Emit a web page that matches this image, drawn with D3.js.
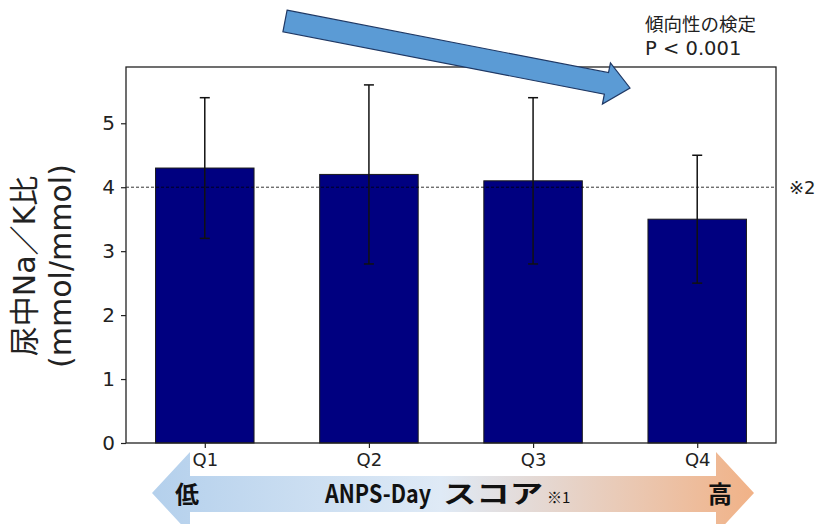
<!DOCTYPE html>
<html>
<head>
<meta charset="utf-8">
<script src="https://cdn.jsdelivr.net/npm/d3@7"></script>
<style>
  body { margin: 0; background: #fff; }
  svg text { font-family: "DejaVu Sans", "Noto Sans CJK JP", sans-serif; }
</style>
</head>
<body>
<div id="chart"></div>
<script>
// data
const quartiles = ["Q1", "Q2", "Q3", "Q4"];
const means = [4.3, 4.2, 4.1, 3.5];
const errLow = [3.2, 2.8, 2.8, 2.5];
const errHigh = [5.4, 5.6, 5.4, 4.5];
const yTicks = [0, 1, 2, 3, 4, 5];
const refLine = 4;

const W = 819, H = 524;
const plot = { left: 126, right: 776, top: 67, bottom: 443 };

const svg = d3.select("#chart").append("svg")
  .attr("width", W)
  .attr("height", H);

// bottom double-headed gradient arrow (drawn first, labels go over it)
const defs = svg.append("defs");
const grad = defs.append("linearGradient").attr("id", "scoreGrad")
  .attr("x1", "0%").attr("x2", "100%");
grad.append("stop").attr("offset", "0%").attr("stop-color", "#b4d0ec");
grad.append("stop").attr("offset", "48%").attr("stop-color", "#dfeaf6");
grad.append("stop").attr("offset", "100%").attr("stop-color", "#f1b287");

const ay = 493;
svg.append("path")
  .attr("d", `M152,${ay} L190,452 L190,476 L716,476 L716,452 L754,${ay}
              L716,534 L716,512 L190,512 L190,534 Z`)
  .attr("fill", "url(#scoreGrad)");

const cjkBold = sel => sel
  .style("font-family", "'Noto Sans CJK JP'")
  .style("font-weight", "bold")
  .attr("fill", "#111");

svg.append("text").attr("x", 187).attr("y", 503)
  .attr("text-anchor", "middle").style("font-size", "24px")
  .call(cjkBold).text("低");
svg.append("text").attr("x", 720).attr("y", 503)
  .attr("text-anchor", "middle").style("font-size", "24px")
  .call(cjkBold).text("高");
svg.append("text").attr("x", 325).attr("y", 503)
  .style("font-size", "25px")
  .attr("textLength", 106).attr("lengthAdjust", "spacingAndGlyphs")
  .call(cjkBold).text("ANPS-Day");
svg.append("text").attr("x", 443).attr("y", 503)
  .style("font-size", "25px")
  .attr("textLength", 100).attr("lengthAdjust", "spacingAndGlyphs")
  .call(cjkBold).text("スコア");
svg.append("text").attr("x", 547).attr("y", 503)
  .style("font-size", "15px")
  .call(cjkBold).style("font-weight", "normal").text("※1");

// scales
const xc = d3.scaleLinear().domain([-0.48, 3.48]).range([plot.left, plot.right]);
const barW = xc(0.3) - xc(-0.3);

const y = d3.scaleLinear().domain([0, 5.88]).range([plot.bottom, plot.top]);

// bars
svg.selectAll(".bar")
  .data(means)
  .enter().append("rect")
  .attr("class", "bar")
  .attr("x", (d, i) => xc(i) - barW / 2)
  .attr("y", d => y(d))
  .attr("width", barW)
  .attr("height", d => y(0) - y(d))
  .attr("fill", "#000080")
  .attr("stroke", "#1a1a1a")
  .attr("stroke-width", 1);

// reference dashed line
svg.append("line")
  .attr("x1", plot.left).attr("x2", plot.right)
  .attr("y1", y(refLine)).attr("y2", y(refLine))
  .attr("stroke", "#000").attr("stroke-width", 0.8)
  .attr("stroke-dasharray", "3,2");

// error bars
const eb = svg.selectAll(".err")
  .data(quartiles)
  .enter().append("g")
  .attr("class", "err")
  .attr("stroke", "#111")
  .attr("stroke-width", 1.5);
eb.append("line")
  .attr("x1", (d, i) => xc(i)).attr("x2", (d, i) => xc(i))
  .attr("y1", (d, i) => y(errLow[i])).attr("y2", (d, i) => y(errHigh[i]));
eb.append("line")
  .attr("x1", (d, i) => xc(i) - 5).attr("x2", (d, i) => xc(i) + 5)
  .attr("y1", (d, i) => y(errLow[i])).attr("y2", (d, i) => y(errLow[i]));
eb.append("line")
  .attr("x1", (d, i) => xc(i) - 5).attr("x2", (d, i) => xc(i) + 5)
  .attr("y1", (d, i) => y(errHigh[i])).attr("y2", (d, i) => y(errHigh[i]));

// frame
svg.append("rect")
  .attr("x", plot.left).attr("y", plot.top)
  .attr("width", plot.right - plot.left)
  .attr("height", plot.bottom - plot.top)
  .attr("fill", "none")
  .attr("stroke", "#222")
  .attr("stroke-width", 1.3);

// axes
const yAxis = d3.axisLeft(y).tickValues(yTicks).tickFormat(d3.format("d"))
  .tickSize(5).tickPadding(6);
const gy = svg.append("g")
  .attr("transform", `translate(${plot.left},0)`)
  .call(yAxis);
gy.select(".domain").remove();
gy.selectAll("text").style("font-size", "20px").attr("fill", "#222");
gy.selectAll("line").attr("stroke", "#222").attr("stroke-width", 1.2);

const xAxis = d3.axisBottom(xc).tickValues([0, 1, 2, 3])
  .tickFormat(i => quartiles[i]).tickSize(5).tickPadding(5);
const gx = svg.append("g")
  .attr("transform", `translate(0,${plot.bottom})`)
  .call(xAxis);
gx.select(".domain").remove();
gx.selectAll("text").style("font-size", "18px").attr("fill", "#222");
gx.selectAll("line").attr("stroke", "#222").attr("stroke-width", 1.2);

// y label
const yl = svg.append("text")
  .attr("transform", `translate(0,266) rotate(-90)`)
  .attr("text-anchor", "middle")
  .style("font-size", "30px")
  .attr("fill", "#222");
yl.append("tspan").attr("x", 0).attr("y", 35).text("尿中Na／K比");
yl.append("tspan").attr("x", 0).attr("y", 71).text("(mmol/mmol)");

// ※2 marker
svg.append("text")
  .attr("x", 789).attr("y", y(refLine) + 7)
  .style("font-size", "18px").attr("fill", "#222")
  .text("※2");

// trend arrow
const x0 = 285, y0 = 21, x1 = 630, y1 = 88;
const ang = Math.atan2(y1 - y0, x1 - x0);
const len = Math.hypot(x1 - x0, y1 - y0);
const bw = 11, hw = 21, hl = 24;
const pts = [[0, -bw], [len - hl, -bw], [len - hl, -hw], [len, 0],
             [len - hl, hw], [len - hl, bw], [0, bw]];
svg.append("path")
  .attr("d", d3.line()(pts) + "Z")
  .attr("transform", `translate(${x0},${y0}) rotate(${ang * 180 / Math.PI})`)
  .attr("fill", "#5b9bd5")
  .attr("stroke", "#1f3864")
  .attr("stroke-width", 1.2);

svg.append("text").attr("x", 645).attr("y", 31)
  .style("font-size", "18.5px").attr("fill", "#222")
  .style("font-family", "'Noto Sans CJK JP'")
  .text("傾向性の検定");
svg.append("text").attr("x", 645).attr("y", 55)
  .style("font-size", "19.5px").attr("fill", "#222")
  .text("P < 0.001");
</script>
</body>
</html>
